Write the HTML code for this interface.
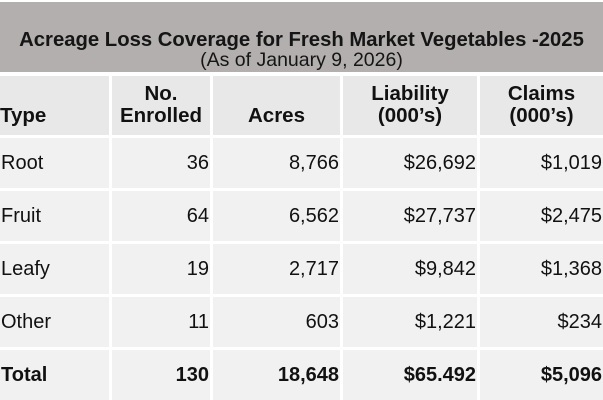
<!DOCTYPE html>
<html><head><meta charset="utf-8"><style>
body{margin:0;width:603px;height:400px;background:#fff;font-family:"Liberation Sans",Arial,sans-serif;overflow:hidden;position:relative;color:#111}
.band{position:absolute;left:0;top:2px;width:603px;height:70px;background:#b3afae}
.t1{position:absolute;left:0;width:603px;top:29px;text-align:center;font-weight:bold;font-size:20.3px;color:#151515}
.t2{position:absolute;left:0;width:603px;top:50px;text-align:center;font-size:19.5px;color:#151515;line-height:20px}
.c{position:absolute;background:#f1f1f1;box-sizing:border-box;font-size:20px}
.h{background:#e8e8e8;font-weight:bold;font-size:20.5px;line-height:22px}
.r{text-align:right;padding-right:1px}
.tot{font-weight:bold}
</style></head><body>
<div class="band"></div>
<div class="t1">Acreage Loss Coverage for Fresh Market Vegetables -2025</div>
<div class="t2">(As of January 9, 2026)</div>
<div id="tbl"></div>
<script>
const cols=[[0,109],[112,98],[213,127],[343,134],[480,123]];
const headers=[["","Type"],["No.","Enrolled"],["","Acres"],["Liability","(000’s)"],["Claims","(000’s)"]];
const types=["Root","Fruit","Leafy","Other","Total"];
const enrolled=["36","64","19","11","130"];
const acres=["8,766","6,562","2,717","603","18,648"];
const liability=["$26,692","$27,737","$9,842","$1,221","$65.492"];
const claims=["$1,019","$2,475","$1,368","$234","$5,096"];
const tbl=document.getElementById('tbl');
function cell(x,y,w,h,cls,html){const d=document.createElement('div');d.className='c '+cls;d.style.left=x+'px';d.style.top=y+'px';d.style.width=w+'px';d.style.height=h+'px';d.innerHTML=html;tbl.appendChild(d);return d;}
headers.forEach((hd,i)=>{const[x,w]=cols[i];const d=cell(x,76,w,59,'h','');


d.style.textAlign=i==0?'left':'center';d.style.paddingTop='7px';
d.innerHTML=(hd[0]||'&nbsp;')+'<br>'+hd[1];});
const rowTops=[138,191,244,297,350];
types.forEach((t,r)=>{const vals=[t,enrolled[r],acres[r],liability[r],claims[r]];
vals.forEach((v,i)=>{const[x,w]=cols[i];const d=cell(x,rowTops[r],w,50,(i?'r ':'')+(r==4?'tot':''),v);


d.style.lineHeight='50px';if(i==0)d.style.paddingLeft='1px';});});
</script>
</body></html>
